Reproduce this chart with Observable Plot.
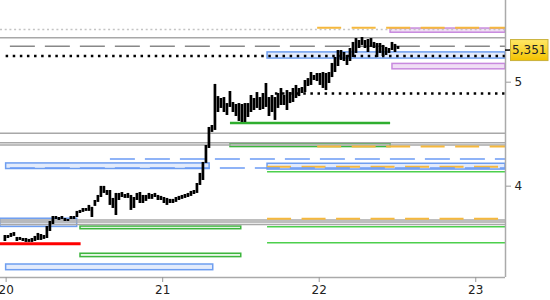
<!DOCTYPE html>
<html><head><meta charset="utf-8">
<script src="https://cdn.jsdelivr.net/npm/d3@7"></script>
<script src="https://cdn.jsdelivr.net/npm/@observablehq/plot@0.6"></script>
<style>body{margin:0;background:#fff;} svg{display:block;}</style>
</head><body><div id="chart"></div>
<script>
// ---- data ----
const xTicks = [20, 21, 22, 23];
const yTicks = [4, 5];
const xDomain = [19.964, 23.19];
const yDomain = [3.288, 5.958];
const lastClose = 5.351;
const lastCloseLabel = "5,351";

const firstBarDay = 19.992;
const barStepDays = 0.01917;
const barHigh = [3.598,3.598,3.614,3.621,3.583,3.583,3.575,3.575,3.568,3.575,
 3.591,3.614,3.606,3.598,3.668,3.708,3.748,3.748,3.740,3.748,
 3.732,3.724,3.748,3.748,3.789,3.797,3.813,3.813,3.838,3.822,
 3.879,3.921,3.998,3.998,3.963,3.963,3.896,3.938,3.938,3.946,
 3.929,3.938,3.921,3.904,3.938,3.946,3.921,3.921,3.938,3.929,
 3.938,3.921,3.913,3.904,3.896,3.888,3.888,3.904,3.913,3.921,
 3.929,3.938,3.955,3.963,4.023,4.111,4.209,4.365,4.537,4.556,
 4.976,4.848,4.828,4.838,4.776,4.901,4.787,4.766,4.776,4.766,
 4.776,4.776,4.859,4.828,4.890,4.838,4.880,4.986,4.838,4.859,
 4.838,4.880,4.933,4.859,4.911,4.890,4.933,4.965,4.933,4.943,
 5.018,5.039,5.105,5.072,5.094,5.094,5.105,5.094,5.105,5.205,
 5.272,5.352,5.352,5.329,5.295,5.375,5.445,5.491,5.468,5.503,
 5.468,5.480,5.491,5.445,5.433,5.433,5.410,5.387,5.375,5.445,5.422,5.398];
const barLow = [3.552,3.575,3.583,3.591,3.552,3.560,3.552,3.545,3.545,3.545,
 3.552,3.560,3.560,3.568,3.575,3.629,3.684,3.724,3.716,3.724,
 3.708,3.708,3.724,3.724,3.740,3.772,3.781,3.789,3.789,3.740,
 3.830,3.863,3.904,3.938,3.921,3.838,3.813,3.756,3.879,3.904,
 3.896,3.896,3.797,3.813,3.879,3.854,3.854,3.871,3.888,3.888,
 3.904,3.879,3.879,3.854,3.838,3.854,3.854,3.863,3.879,3.888,
 3.896,3.904,3.913,3.929,3.938,4.006,4.049,4.200,4.337,4.489,
 4.508,4.685,4.726,4.685,4.655,4.736,4.685,4.645,4.596,4.586,
 4.586,4.635,4.685,4.705,4.726,4.705,4.715,4.736,4.645,4.685,
 4.606,4.726,4.756,4.756,4.705,4.776,4.787,4.828,4.848,4.880,
 4.890,4.954,4.965,5.018,5.007,4.965,4.933,4.911,4.986,5.050,
 5.105,5.171,5.238,5.227,5.182,5.227,5.272,5.318,5.375,5.410,
 5.375,5.329,5.387,5.375,5.272,5.318,5.284,5.295,5.318,5.352,5.329,5.364];

const xEnd = xDomain[1];
const grayLevels = [5.50, 4.48, 4.39, 4.37, 3.72, 3.704, 3.684];
const grayDottedLevels = [5.60];
const grayDashed = [{y: 5.40, from: 20.027, to: xEnd}];
const blackDotted = [{y: 5.29, from: 20.0, to: xEnd}, {y: 4.88, from: 21.72, to: xEnd}];
const orangeDashed = [{y: 5.62, from: 21.99, to: xEnd}, {y: 4.355, from: 21.99, to: xEnd},
  {y: 4.17, from: 21.67, to: xEnd}, {y: 3.73, from: 21.67, to: xEnd}];
const blueDashed = [{y: 4.24, from: 20.666, to: xEnd}, {y: 4.16, from: 20.027, to: xEnd}];
const greenLines = [{y: 4.125, from: 21.67, to: xEnd}, {y: 3.666, from: 21.67, to: xEnd}, {y: 3.543, from: 21.67, to: xEnd}];
const greenThick = [{y: 4.58, from: 21.433, to: 22.456}];
const redLines = [{y: 3.535, from: 19.964, to: 20.479}];
const blueZones = [
  {lo: 5.26, hi: 5.33, from: 21.67, to: xEnd},
  {lo: 4.15, hi: 4.20, from: 20.0, to: 21.30},
  {lo: 4.145, hi: 4.197, from: 21.67, to: xEnd},
  {lo: 3.665, hi: 3.73, from: 19.964, to: 20.454},
  {lo: 3.34, hi: 3.381, from: 20.0, to: 21.323}];
const purpleZones = [
  {lo: 5.56, hi: 5.61, from: 22.456, to: xEnd},
  {lo: 5.14, hi: 5.20, from: 22.468, to: xEnd}];
const greenZones = [
  {lo: 4.35, hi: 4.38, from: 21.433, to: 22.456},
  {lo: 3.647, hi: 3.668, from: 20.475, to: 21.502},
  {lo: 3.435, hi: 3.46, from: 20.475, to: 21.502}];

// ---- build ----
const bars = barHigh.map((h, i) => ({t: firstBarDay + i * barStepDays, high: h, low: barLow[i]}));
const seg = {y: "y", x1: "from", x2: "to"};
const zone = {x1: "from", x2: "to", y1: "lo", y2: "hi"};

const plot = Plot.plot({
  width: 550, height: 300,
  marginLeft: 0, marginRight: 45, marginTop: 0, marginBottom: 23,
  style: {fontFamily: "DejaVu Sans", fontSize: "11px", background: "white", overflow: "visible"},
  x: {domain: xDomain},
  y: {type: "log", domain: yDomain},
  marks: [
    Plot.rect(blueZones, {...zone, fill: "#e3ebfb", stroke: "#6e9ef0", strokeWidth: 1.5}),
    Plot.rect(purpleZones, {...zone, fill: "#f0def5", stroke: "#c889de", strokeWidth: 1.5}),
    Plot.rect(greenZones, {...zone, fill: "#e8f6e8", stroke: "#3db53d", strokeWidth: 1.5}),
    Plot.ruleY(grayLevels, {stroke: "#a8a8a8", strokeWidth: 1.5}),
    Plot.ruleY(grayDottedLevels, {stroke: "#c4c4c4", strokeWidth: 1.5, strokeDasharray: "2,2.7"}),
    Plot.ruleY(grayDashed, {...seg, stroke: "#888", strokeWidth: 1.5, strokeDasharray: "25,10"}),
    Plot.ruleY(orangeDashed, {...seg, stroke: "#f5b83d", strokeWidth: 2, strokeDasharray: "24,10.5"}),
    Plot.ruleY(blueDashed, {...seg, stroke: "#6b9bf5", strokeWidth: 1.5, strokeDasharray: "25,10"}),
    Plot.ruleY(greenLines, {...seg, stroke: "#4ccf4c", strokeWidth: 1.5}),
    Plot.ruleY(greenThick, {...seg, stroke: "#2fae2f", strokeWidth: 2.5}),
    Plot.ruleY(redLines, {...seg, stroke: "#ff0000", strokeWidth: 3}),
    Plot.ruleY(blackDotted, {...seg, stroke: "#000", strokeWidth: 2.5, strokeDasharray: "2.5,4.6"}),
    Plot.ruleX(bars, {x: "t", y1: "low", y2: "high", stroke: "#000", strokeWidth: 2.7}),
    Plot.ruleX([xDomain[1]], {stroke: "#aaa", strokeWidth: 1.5}),
    Plot.ruleY([yDomain[0]], {stroke: "#aaa", strokeWidth: 1.5}),
    Plot.axisY({ticks: yTicks, anchor: "right", tickSize: 5, tickPadding: 4, tickFormat: d => String(d),
      color: "#222", stroke: "#999", fill: "#222", fontSize: 12, label: null}),
    Plot.axisX({ticks: xTicks, anchor: "bottom", tickSize: 5, tickPadding: 3, tickFormat: d => String(d),
      color: "#222", stroke: "#999", fill: "#222", fontSize: 12, label: null})
  ]
});

// last price marker, positioned with Plot's scales
const svg = d3.select(plot);
const yPx = plot.scale("y").apply(lastClose);
const xPx = plot.scale("x").range[1];
const defs = svg.append("defs");
const grad = defs.append("linearGradient").attr("id", "lastGrad").attr("x1", 0).attr("x2", 0).attr("y1", 0).attr("y2", 1);
grad.append("stop").attr("offset", "0%").attr("stop-color", "#ffe866");
grad.append("stop").attr("offset", "100%").attr("stop-color", "#f3c200");
const g = svg.append("g");
g.append("line").attr("x1", xPx).attr("x2", xPx + 5).attr("y1", yPx).attr("y2", yPx)
  .attr("stroke", "#000").attr("stroke-width", 1.5);
g.append("rect").attr("x", xPx + 5.5).attr("y", yPx - 10.5).attr("width", 37.5).attr("height", 21)
  .attr("fill", "url(#lastGrad)").attr("stroke", "#c9b03a").attr("stroke-width", 1);
g.append("text").attr("x", xPx + 24.25).attr("y", yPx).attr("dy", "0.36em")
  .attr("text-anchor", "middle").attr("font-size", 12).attr("fill", "#222").text(lastCloseLabel);

document.getElementById("chart").appendChild(plot);
</script>
</body></html>
